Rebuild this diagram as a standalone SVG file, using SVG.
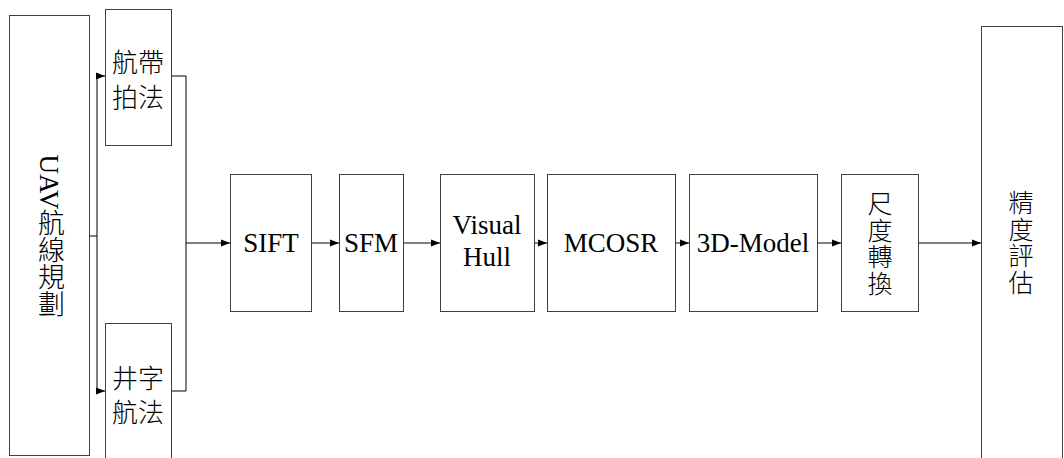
<svg xmlns="http://www.w3.org/2000/svg" width="1064" height="458" viewBox="0 0 1064 458">
<style>
.box{fill:#fff;stroke:#404040;stroke-width:1}
.en{font-family:"Liberation Serif","Times New Roman",serif;font-size:27px;fill:#000;text-anchor:middle}
.zh{font-family:"Noto Sans CJK TC","Noto Sans CJK SC",sans-serif;font-size:26px;font-weight:300;fill:#000;text-anchor:middle;dominant-baseline:central}
.zv{font-family:"Noto Sans CJK TC","Noto Sans CJK SC",sans-serif;font-size:25px;font-weight:300;fill:#000;text-anchor:middle;letter-spacing:1.5px}
.ln{fill:none;stroke:#000;stroke-width:1}
</style>
<defs>
<marker id="ah" markerUnits="userSpaceOnUse" markerWidth="9" markerHeight="8" refX="9" refY="4" orient="auto">
<path d="M0,0.5 L9,4 L0,7.5 z" fill="#000"/>
</marker>
</defs>
<rect width="1064" height="458" fill="#fff"/>
<g id="connectors">
<path class="ln" d="M89,236 H97 M97,76 V391"/>
<path class="ln" d="M97,76 H105" marker-end="url(#ah)"/>
<path class="ln" d="M97,391 H105" marker-end="url(#ah)"/>
<path class="ln" d="M171,76 H186 V391 H171"/>
<path class="ln" d="M186,243 H230" marker-end="url(#ah)"/>
<path class="ln" d="M311,243 H339" marker-end="url(#ah)"/>
<path class="ln" d="M403,243 H440" marker-end="url(#ah)"/>
<path class="ln" d="M534,243 H547" marker-end="url(#ah)"/>
<path class="ln" d="M675,243 H689" marker-end="url(#ah)"/>
<path class="ln" d="M817,243 H841" marker-end="url(#ah)"/>
<path class="ln" d="M918,243 H981" marker-end="url(#ah)"/>
</g>
<g id="uav">
<rect class="box" x="9.5" y="15.5" width="80" height="440"/>
<text x="49" y="236" writing-mode="vertical-rl" text-anchor="middle" style="font-family:'Liberation Serif','Noto Sans CJK TC',serif;font-size:27px;font-weight:300">UAV航線規劃</text>
</g>
<g id="hangdai">
<rect class="box" x="105.5" y="9.5" width="66" height="136"/>
<text class="zh" x="138" y="60">航帶</text>
<text class="zh" x="138" y="95">拍法</text>
</g>
<g id="jingzi">
<rect class="box" x="105.5" y="323.5" width="66" height="140"/>
<text class="zh" x="138" y="376">井字</text>
<text class="zh" x="138" y="410">航法</text>
</g>
<g id="sift">
<rect class="box" x="230.5" y="174.5" width="81" height="137"/>
<text class="en" x="271" y="252">SIFT</text>
</g>
<g id="sfm">
<rect class="box" x="339.5" y="174.5" width="64" height="137"/>
<text class="en" x="371" y="252">SFM</text>
</g>
<g id="visualhull">
<rect class="box" x="440.5" y="174.5" width="94" height="137"/>
<text class="en" x="487" y="234">Visual</text>
<text class="en" x="487" y="266">Hull</text>
</g>
<g id="mcosr">
<rect class="box" x="547.5" y="174.5" width="128" height="137"/>
<text class="en" x="611" y="252">MCOSR</text>
</g>
<g id="model3d">
<rect class="box" x="689.5" y="174.5" width="128" height="137"/>
<text class="en" x="753" y="252">3D-Model</text>
</g>
<g id="scale">
<rect class="box" x="841.5" y="174.5" width="77" height="137"/>
<text class="zv" x="880" y="244" writing-mode="vertical-rl">尺度轉換</text>
</g>
<g id="accuracy">
<rect class="box" x="981.5" y="26.5" width="81" height="440"/>
<text class="zv" x="1021" y="243" writing-mode="vertical-rl">精度評估</text>
</g>
</svg>
